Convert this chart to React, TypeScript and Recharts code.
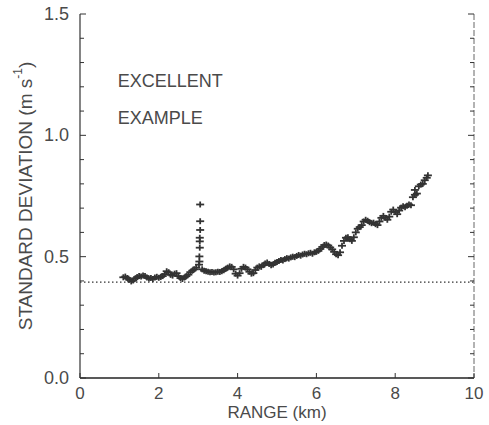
import React from "react";
import {
  ScatterChart,
  Scatter,
  XAxis,
  YAxis,
  ReferenceLine,
  ReferenceDot,
} from "recharts";

// range gates (km) and standard deviation (m/s)
const rangeKm = [
  1.1, 1.15, 1.2, 1.25, 1.3, 1.35, 1.4, 1.45, 1.5, 1.55, 1.6, 1.65, 1.7, 1.75, 1.8, 1.85, 1.9, 1.95,
  2.0, 2.05, 2.1, 2.15, 2.2, 2.25, 2.3, 2.35, 2.4, 2.45, 2.5, 2.55, 2.6, 2.65, 2.7, 2.75, 2.8, 2.85,
  2.9, 2.95,
  3.02, 3.03, 3.03, 3.04, 3.04, 3.04, 3.05, 3.05, 3.05,
  3.1, 3.15, 3.2, 3.25, 3.3, 3.35, 3.4, 3.45, 3.5, 3.55, 3.6, 3.65, 3.7, 3.75, 3.8, 3.85, 3.9, 3.95,
  4.0, 4.05, 4.1, 4.15, 4.2, 4.25, 4.3, 4.35, 4.4, 4.45, 4.5, 4.55, 4.6, 4.65, 4.7, 4.75, 4.8, 4.85,
  4.9, 4.95, 5.0, 5.05, 5.1, 5.15, 5.2, 5.25, 5.3, 5.35, 5.4, 5.45, 5.5, 5.55, 5.6, 5.65, 5.7, 5.75,
  5.8, 5.85, 5.9, 5.95, 6.0, 6.05, 6.1, 6.15, 6.2, 6.25, 6.3, 6.35, 6.4, 6.45, 6.5, 6.55, 6.6, 6.65,
  6.7, 6.75, 6.8, 6.85, 6.9, 6.95, 7.0, 7.05, 7.1, 7.15, 7.2, 7.25, 7.3, 7.35, 7.4, 7.45, 7.5, 7.55,
  7.6, 7.65, 7.7, 7.75, 7.8, 7.85, 7.9, 7.95, 8.0, 8.05, 8.1, 8.15, 8.2, 8.25, 8.3, 8.35, 8.4, 8.45,
  8.5, 8.55, 8.5, 8.6, 8.65, 8.7, 8.75, 8.8, 8.83,
];

const stdDev = [
  0.415, 0.418, 0.412, 0.405, 0.398, 0.402, 0.41, 0.416, 0.42, 0.418, 0.422, 0.42, 0.414, 0.41, 0.412, 0.408, 0.414, 0.417,
  0.413, 0.416, 0.42, 0.428, 0.44, 0.436, 0.425, 0.422, 0.43, 0.432, 0.42, 0.412, 0.408, 0.414, 0.42, 0.426, 0.436, 0.442,
  0.448, 0.455,
  0.467, 0.48, 0.501, 0.537, 0.563, 0.578, 0.61, 0.646, 0.715,
  0.448, 0.442, 0.44, 0.438, 0.436, 0.437, 0.435, 0.436, 0.438, 0.437, 0.44, 0.444, 0.45, 0.455, 0.46, 0.458, 0.448, 0.43,
  0.422, 0.432, 0.45, 0.458, 0.455, 0.448, 0.438, 0.43, 0.432, 0.445, 0.455, 0.46, 0.458, 0.465, 0.472, 0.476, 0.47, 0.465,
  0.468, 0.475, 0.478, 0.482, 0.486, 0.484, 0.49, 0.494, 0.492, 0.497, 0.5, 0.498, 0.503, 0.507, 0.504, 0.509, 0.512, 0.51,
  0.514, 0.516, 0.512, 0.518, 0.52, 0.524, 0.532, 0.54, 0.548, 0.55, 0.546, 0.538, 0.53, 0.52, 0.51, 0.506, 0.518, 0.545,
  0.565, 0.578, 0.58, 0.572, 0.565, 0.58, 0.6, 0.615, 0.622, 0.63, 0.645, 0.652, 0.648, 0.642, 0.638, 0.64, 0.634, 0.63,
  0.645, 0.66, 0.668, 0.66, 0.652, 0.665, 0.685, 0.694, 0.684, 0.675, 0.69, 0.702, 0.708, 0.704, 0.71, 0.715, 0.712, 0.745,
  0.755, 0.76, 0.775, 0.79, 0.797, 0.8, 0.815, 0.825, 0.835,
];

const xTicks = [0, 2, 4, 6, 8, 10];
const yTicks = [0, 0.1, 0.2, 0.3, 0.4, 0.5, 0.6, 0.7, 0.8, 0.9, 1.0, 1.1, 1.2, 1.3, 1.4, 1.5];
const yLabels = [0, 0.5, 1.0, 1.5];
const noiseLevel = 0.395;

const points = rangeKm.map((x, i) => ({ x, y: stdDev[i] }));

const FONT = "'Liberation Sans', Arial, sans-serif";
const INK = "#333";
const TEXT = "#4a4a4a";

const isMajor = (v: number) => yLabels.some((l) => Math.abs(l - v) < 1e-6);

const PlusMark = (props: any) => {
  const { cx, cy } = props;
  return (
    <g stroke={INK} strokeWidth={1.8}>
      <line x1={cx - 4} x2={cx + 4} y1={cy} y2={cy} />
      <line x1={cx} x2={cx} y1={cy - 3} y2={cy + 3} />
    </g>
  );
};

const BottomTick = (props: any) => {
  const { x, y, payload } = props;
  return (
    <g>
      <line x1={x} x2={x} y1={y} y2={y - 5} stroke={INK} strokeWidth={1} />
      <text x={x} y={y + 21} textAnchor="middle" fontSize={17} fill={TEXT} fontFamily={FONT}>
        {payload.value}
      </text>
    </g>
  );
};

const TopTick = (props: any) => {
  const { x, y } = props;
  return <line x1={x} x2={x} y1={y} y2={y + 5} stroke={INK} strokeWidth={1} />;
};

const LeftTick = (props: any) => {
  const { x, y, payload } = props;
  const major = isMajor(payload.value);
  return (
    <g>
      <line x1={x} x2={x + (major ? 6 : 4)} y1={y} y2={y} stroke={INK} strokeWidth={1} />
      {major && (
        <text x={x - 11} y={y + 6} textAnchor="end" fontSize={18} fill={TEXT} fontFamily={FONT}>
          {payload.value.toFixed(1)}
        </text>
      )}
    </g>
  );
};

const RightTick = (props: any) => {
  const { x, y, payload } = props;
  const major = isMajor(payload.value);
  return <line x1={x} x2={x - (major ? 6 : 4)} y1={y} y2={y} stroke={INK} strokeWidth={1} />;
};

const YLabel = (props: any) => {
  const vb = props.viewBox;
  const cx = vb.x + 25;
  const cy = vb.y + vb.height / 2;
  return (
    <text
      x={cx}
      y={cy}
      transform={`rotate(-90, ${cx}, ${cy})`}
      textAnchor="middle"
      dominantBaseline="central"
      fontSize={19}
      fill={TEXT}
      fontFamily={FONT}
    >
      STANDARD DEVIATION (m s
      <tspan dy={-7} fontSize={12}>-1</tspan>
      <tspan dy={7}>)</tspan>
    </text>
  );
};

const XLabel = (props: any) => {
  const vb = props.viewBox;
  return (
    <text x={vb.x + vb.width / 2} y={vb.y + 40} textAnchor="middle" fontSize={17} fill={TEXT} fontFamily={FONT}>
      RANGE (km)
    </text>
  );
};

const Note = (text: string) => (props: any) => (
  <text x={props.cx} y={props.cy} fontSize={18} fill={TEXT} fontFamily={FONT}>
    {text}
  </text>
);

export default function App() {
  return (
    <div style={{ position: "absolute", left: 0, top: 0, width: 489, height: 425, background: "#fff" }}>
      <ScatterChart width={489} height={425} margin={{ top: 14, right: 0, bottom: 0, left: 0 }}>
        <XAxis
          dataKey="x"
          type="number"
          domain={[0, 10]}
          ticks={xTicks}
          height={47}
          tickSize={0}
          tickMargin={0}
          tickLine={false}
          axisLine={{ stroke: "#222", strokeWidth: 1.6 }}
          tick={<BottomTick />}
          label={<XLabel />}
        />
        <XAxis
          xAxisId="top"
          orientation="top"
          type="number"
          domain={[0, 10]}
          allowDataOverflow
          ticks={[2, 4, 6, 8]}
          height={0}
          tickSize={0}
          tickMargin={0}
          tickLine={false}
          axisLine={{ stroke: INK, strokeWidth: 1.2 }}
          tick={<TopTick />}
        />
        <YAxis
          dataKey="y"
          type="number"
          domain={[0, 1.5]}
          ticks={yTicks}
          width={80}
          tickSize={0}
          tickMargin={0}
          tickLine={false}
          axisLine={{ stroke: INK, strokeWidth: 1.2 }}
          tick={<LeftTick />}
          label={<YLabel />}
        />
        <YAxis
          yAxisId="right"
          orientation="right"
          type="number"
          domain={[0, 1.5]}
          allowDataOverflow
          ticks={yTicks}
          width={15}
          tickSize={0}
          tickMargin={0}
          tickLine={false}
          axisLine={{ stroke: "#666", strokeWidth: 1, strokeDasharray: "6 2" }}
          tick={<RightTick />}
        />
        <ReferenceLine y={noiseLevel} stroke={INK} strokeWidth={1.3} strokeDasharray="1.5 2.5" />
        <ReferenceDot x={0.96} y={1.2} r={0} shape={Note("EXCELLENT")} />
        <ReferenceDot x={0.96} y={1.047} r={0} shape={Note("EXAMPLE")} />
        <Scatter data={points} shape={<PlusMark />} isAnimationActive={false} />
      </ScatterChart>
    </div>
  );
}
